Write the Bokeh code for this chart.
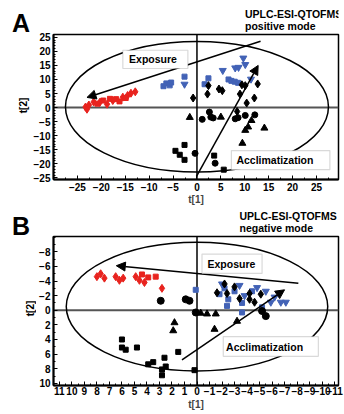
import math
from bokeh.plotting import figure
from bokeh.layouts import column, row
from bokeh.models import Range1d, FixedTicker, Span, Arrow, NormalHead, BoxAnnotation, Label
from bokeh.embed import file_html
from bokeh.resources import INLINE

FONT = "Liberation Sans"
RED = "#e8231e"
BLUE = "#4262b6"

# ---------------- Panel A data (positive mode) ----------------
a_red_diamond_x = [-23.3, -23.0, -22.6, -21.6, -20.3, -18.8, -17.6, -15.5, -14.5, -13.8, -12.9]
a_red_diamond_y = [0.2, -0.6, 0.9, 2.0, 1.9, 1.2, 2.5, 3.7, 4.3, 5.1, 5.6]
a_red_square_x = [-20.8, -19.6, -18.2, -16.9, -16.2, -14.9]
a_red_square_y = [1.4, 2.5, 3.1, 3.0, 2.2, 3.4]
a_blue_square_x = [-7.0, -6.4, -5.7, -5.4, -2.6, 1.6, 2.4, 6.6, 7.2, 7.9, 8.6]
a_blue_square_y = [7.6, 8.6, 7.9, 8.9, 11.0, 8.3, 10.4, 10.0, 9.5, 9.2, 8.8]
a_blue_tri_x = [-2.6, 5.4, 8.0, 8.7, 9.7, 10.1, 11.3]
a_blue_tri_y = [8.3, 13.2, 14.1, 14.3, 17.6, 15.3, 10.1]
a_black_diamond_x = [-0.8, 2.2, 2.4, 4.6, 5.3, 9.0, 9.4, 10.1, 10.4, 12.0, 12.7, 8.4]
a_black_diamond_y = [3.4, 4.8, 7.8, 6.6, 6.0, 4.8, 8.1, 7.8, 1.6, 3.4, 8.4, -1.4]
a_black_circle_x = [2.6, 1.1, 2.9, 3.4, 8.0, 8.6, 10.1, 12.1, -0.4, 3.8]
a_black_circle_y = [-1.6, -4.2, -3.4, -3.7, -4.0, -3.6, -2.8, -2.6, -16.3, -19.8]
a_black_tri_x = [-1.5, 5.0, 11.4, 10.7, 10.1, 14.1, 9.5]
a_black_tri_y = [-3.5, -3.4, -4.6, -6.9, -8.1, -7.3, -12.7]
a_black_square_x = [-2.6, -4.5, -3.6, -2.6, 3.6, 5.6]
a_black_square_y = [-13.3, -15.4, -16.8, -18.6, -17.1, -22.1]
a_x_ticks = [-25, -20, -15, -10, -5, 0, 5, 10, 15, 20, 25]
a_y_ticks = [-25, -20, -15, -10, -5, 0, 5, 10, 15, 20, 25]

# ---------------- Panel B data (negative mode) ----------------
b_red_diamond_x = [8.0, 7.7, 7.4, 6.5, 6.2, 5.9, 4.9, 4.6, 4.2, 2.8]
b_red_diamond_y = [-4.6, -5.0, -4.4, -4.6, -4.1, -4.4, -4.6, -4.1, -3.8, -3.0]
b_red_square_x = [3.9, 3.3, 4.4]
b_red_square_y = [-4.5, -4.6, -4.9]
b_blue_square_x = [0.1, -1.8, -2.2, -2.5, -3.0, -2.4, -3.6, -4.4, -5.2, -3.6]
b_blue_square_y = [-2.8, -2.2, -3.0, -1.5, -2.6, -0.6, -1.0, -2.6, -0.4, 0.3]
b_blue_tri_x = [-2.0, -3.4, -4.8, -5.5, -5.9, -6.7, -7.1, -6.2, -3.8]
b_blue_tri_y = [-3.6, -3.4, -3.1, -2.6, -1.1, -1.1, -1.1, -1.8, -2.0]
b_black_diamond_x = [-2.2, -3.0, -2.4, -3.4, -4.2, -4.2, -5.1, -4.6, -1.6]
b_black_diamond_y = [-3.6, -3.2, -2.3, -1.6, -2.3, -1.5, -2.2, -1.1, -2.4]
b_black_circle_x = [2.9, 0.9, 0.6, 0.1, -5.2, -5.5]
b_black_circle_y = [-1.3, -1.5, -1.3, 0.3, 0.1, 0.8]
b_black_tri_x = [1.9, 1.8, -0.3, -0.8, -1.4, -3.2, -1.5]
b_black_tri_y = [2.8, 1.7, 0.4, 0.5, 2.6, 1.5, 0.5]
b_black_square_x = [6.0, 6.0, 5.7, 4.8, 3.9, 3.5, 2.8, 2.8, 2.6, 2.5, 1.5, 0.2]
b_black_square_y = [4.0, 5.1, 5.4, 5.1, 7.4, 7.1, 8.1, 8.9, 6.5, 7.7, 5.7, 8.2]
b_x_ticks = [11, 10, 9, 8, 7, 6, 5, 4, 3, 2, 1, 0, -1, -2, -3, -4, -5, -6, -7, -8, -9, -10, -11]
b_y_ticks = [-8, -6, -4, -2, 0, 2, 4, 6, 8, 10]

# Annotation geometry (data units)
a_ellipse = dict(x=0, y=0.3, w=55, h=46.5)
b_ellipse = dict(x=0, y=-0.5, w=20.9, h=17.6)
a_arrows = [(13.3, 23.6, -23.0, 3.6), (-0.1, -24.5, 12.8, 15.0)]
b_arrows = [(-8.1, -3.7, 6.45, -6.1), (1.2, 6.8, -7.0, -2.8)]
a_boxes = [("Exposure", -15.5, -1.9, 13.9, 20.4, -9.2, 17.2),
           ("Acclimatization", 7.2, 27.8, -22.1, -15.3, 16.3, -18.6)]
b_boxes = [("Exposure", -0.4, -5.2, -7.7, -5.05, -2.75, -6.4),
           ("Acclimatization", -2.1, -9.7, 3.6, 6.3, -5.4, 5.0)]


def make_panel(width, height, xr, yr, borders, xticks, xminor, yticks, yminor, lab_stand, ax_stand):
    p = figure(width=width, height=height, x_range=Range1d(*xr), y_range=Range1d(*yr),
               output_backend="svg", toolbar_location=None,
               min_border_left=borders[0], min_border_right=borders[1],
               min_border_top=borders[2], min_border_bottom=borders[3])
    p.xgrid.visible = False
    p.ygrid.visible = False
    p.outline_line_color = "black"
    p.outline_line_width = 1.5
    p.outline_line_alpha = 1.0
    p.xaxis.ticker = FixedTicker(ticks=xticks, minor_ticks=xminor)
    p.yaxis.ticker = FixedTicker(ticks=yticks, minor_ticks=yminor)
    for ax in (p.xaxis[0], p.yaxis[0]):
        ax.axis_line_width = 2
        ax.axis_line_color = "black"
        ax.major_tick_in = 4
        ax.major_tick_out = 0
        ax.minor_tick_in = 2
        ax.minor_tick_out = 0
        ax.major_tick_line_color = "black"
        ax.minor_tick_line_color = "black"
        ax.major_label_text_font = FONT
        ax.major_label_text_font_style = "bold"
        ax.major_label_text_font_size = "10px"
        ax.major_label_text_color = "black"
        ax.major_label_standoff = 3
    p.xaxis.major_label_standoff = lab_stand
    p.xaxis.axis_label = "t[1]"
    p.xaxis.axis_label_text_font = FONT
    p.xaxis.axis_label_text_font_style = "bold"
    p.xaxis.axis_label_text_font_size = "10px"
    p.xaxis.axis_label_standoff = ax_stand
    return p


def blank(width, height):
    p = figure(width=width, height=height, x_range=Range1d(0, width), y_range=Range1d(0, height),
               output_backend="svg", toolbar_location=None, x_axis_type=None, y_axis_type=None,
               min_border=0)
    p.outline_line_color = None
    return p


def add_text(p, x, y, txt, size, align="center", angle=0.0):
    p.add_layout(Label(x=x, y=y, text=txt, text_align=align, text_baseline="middle",
                       text_font=FONT, text_font_style="bold", text_font_size=size,
                       text_color="black", angle=angle))


def add_content(p, ell, arrows, boxes, pts):
    p.add_layout(Span(location=0, dimension="width", line_color="#555555", line_width=2, level="underlay"))
    p.add_layout(Span(location=0, dimension="height", line_color="black", line_width=1.5, level="underlay"))
    p.ellipse(x=ell["x"], y=ell["y"], width=ell["w"], height=ell["h"],
              fill_color=None, line_color="black", line_width=1.5)
    for (xs, ys, marker, color, size) in pts:
        p.scatter(xs, ys, marker=marker, size=size, fill_color=color, line_color=color)
    for (x0, y0, x1, y1) in arrows:
        p.add_layout(Arrow(end=NormalHead(size=9, fill_color="black", line_color="black"),
                           x_start=x0, y_start=y0, x_end=x1, y_end=y1,
                           line_color="black", line_width=1.5))
    for (txt, l, r, b, t, tx, ty) in boxes:
        p.add_layout(BoxAnnotation(left=min(l, r), right=max(l, r), bottom=min(b, t), top=max(b, t),
                                   fill_color="white", fill_alpha=1.0,
                                   line_color="#808080", line_width=1.2))
        add_text(p, tx, ty, txt, "10.5px")


# ---------------- Panel A ----------------
left_a = blank(30, 207)
add_text(left_a, 20.5, 185, "A", "25px")
add_text(left_a, 22.5, 102, "t[2]", "10px", "center", math.pi / 2)

head_a = blank(314, 32)
add_text(head_a, 211, 18.7, "UPLC-ESI-QTOFMS", "10.5px", "left")
add_text(head_a, 211, 6.5, "positive mode", "10.5px", "left")

pa = make_panel(314, 175, (-30, 29.6), (-25.6, 26.0), (18, 6, 2, 26),
                a_x_ticks, [v * 2.5 for v in range(-12, 13)],
                a_y_ticks, list(range(-25, 27)), 3, 0)
add_content(pa, a_ellipse, a_arrows, a_boxes, [
    (a_red_diamond_x, a_red_diamond_y, "diamond", RED, 8),
    (a_red_square_x, a_red_square_y, "square", RED, 5),
    (a_blue_square_x, a_blue_square_y, "square", BLUE, 5),
    (a_blue_tri_x, a_blue_tri_y, "inverted_triangle", BLUE, 7),
    (a_black_diamond_x, a_black_diamond_y, "diamond", "black", 8),
    (a_black_circle_x, a_black_circle_y, "circle", "black", 6),
    (a_black_tri_x, a_black_tri_y, "triangle", "black", 7),
    (a_black_square_x, a_black_square_y, "square", "black", 5),
])

# ---------------- Panel B ----------------
left_b = blank(36, 207)
add_text(left_b, 20.5, 189, "B", "25px")
add_text(left_b, 30.0, 106, "t[2]", "10px", "center", math.pi / 2)

head_b = blank(308, 27)
add_text(head_b, 201, 19, "UPLC-ESI-QTOFMS", "10.5px", "left")
add_text(head_b, 201, 6.5, "negative mode", "10.5px", "left")

pb = make_panel(308, 180, (11.47, -11.31), (10.3, -10.1), (14, 6, 2, 29),
                b_x_ticks, [v * 0.5 for v in range(-23, 24)],
                b_y_ticks, list(range(-10, 11)), 1, 1)
add_content(pb, b_ellipse, b_arrows, b_boxes, [
    (b_red_diamond_x, b_red_diamond_y, "diamond", RED, 8),
    (b_red_square_x, b_red_square_y, "square", RED, 5),
    (b_blue_square_x, b_blue_square_y, "square", BLUE, 5),
    (b_blue_tri_x, b_blue_tri_y, "inverted_triangle", BLUE, 7),
    (b_black_diamond_x, b_black_diamond_y, "diamond", "black", 8),
    (b_black_circle_x, b_black_circle_y, "circle", "black", 7),
    (b_black_tri_x, b_black_tri_y, "triangle", "black", 7),
    (b_black_square_x, b_black_square_y, "square", "black", 5),
])

layout = column(
    row(left_a, column(head_a, pa, spacing=0), spacing=0),
    row(left_b, column(head_b, pb, spacing=0), spacing=0),
    spacing=0,
)
open("out.html", "w").write(file_html(layout, INLINE))
